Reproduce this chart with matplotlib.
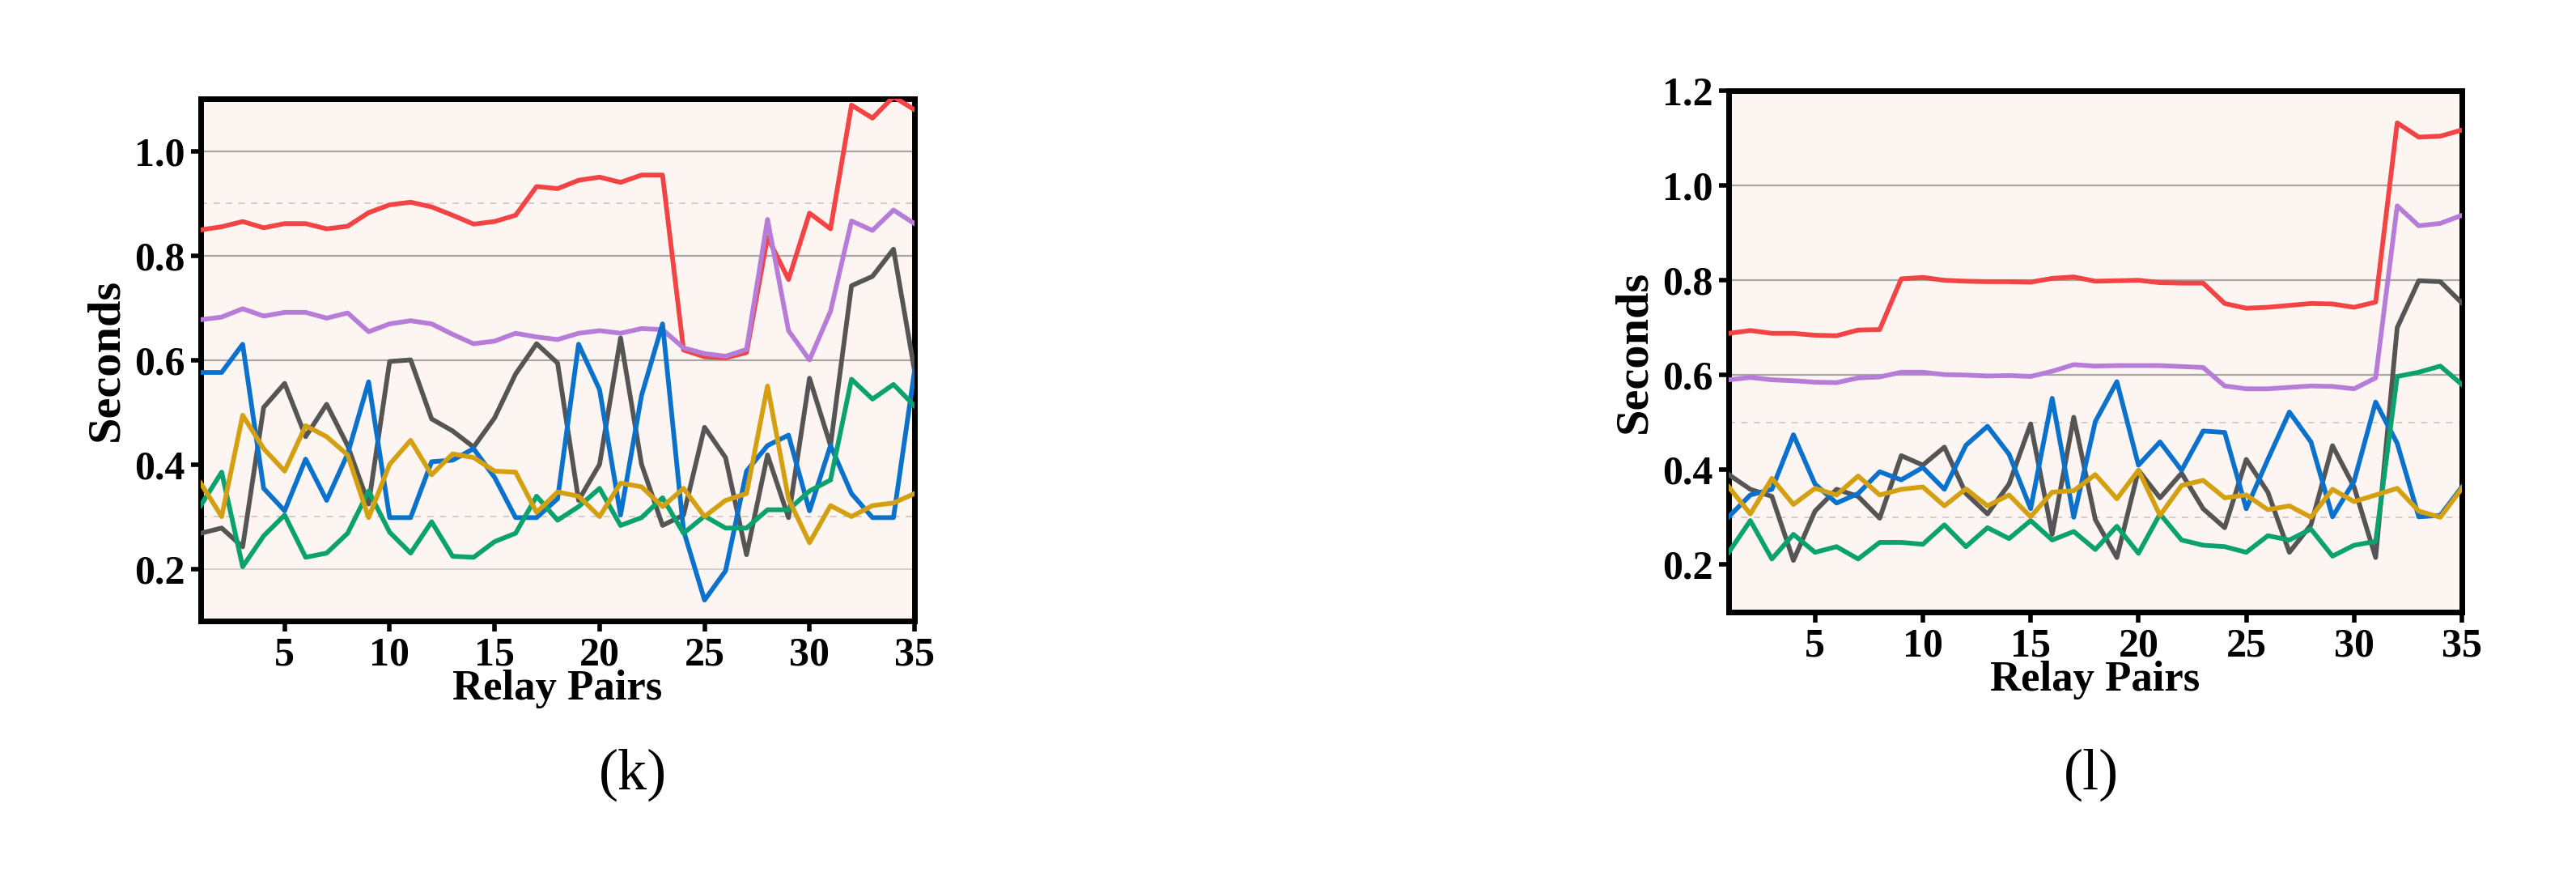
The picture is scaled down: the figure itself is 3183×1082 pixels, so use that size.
import numpy as np
import matplotlib
matplotlib.use('Agg')
import matplotlib.pyplot as plt

plt.rcParams['font.family'] = ['Liberation Serif', 'DejaVu Serif']

relay = np.arange(1, 36)

# ---------------------------------------------------------------------------
# Panel (k)
# ---------------------------------------------------------------------------
k_red = [0.849, 0.855, 0.865, 0.853, 0.861, 0.861, 0.851, 0.856, 0.882, 0.897,
         0.902, 0.893, 0.877, 0.860, 0.865, 0.877, 0.932, 0.928, 0.944, 0.950,
         0.940, 0.954, 0.954, 0.619, 0.606, 0.604, 0.614, 0.835, 0.754, 0.881,
         0.851, 1.088, 1.063, 1.104, 1.079]
k_purple = [0.677, 0.682, 0.698, 0.684, 0.691, 0.691, 0.680, 0.690, 0.654, 0.669,
            0.675, 0.669, 0.649, 0.631, 0.636, 0.651, 0.644, 0.639, 0.651, 0.656,
            0.651, 0.660, 0.658, 0.623, 0.612, 0.607, 0.620, 0.869, 0.656, 0.600,
            0.693, 0.866, 0.848, 0.887, 0.861]
k_gray = [0.268, 0.278, 0.242, 0.509, 0.555, 0.453, 0.515, 0.436, 0.324, 0.597,
          0.600, 0.487, 0.464, 0.433, 0.489, 0.573, 0.631, 0.594, 0.331, 0.400,
          0.642, 0.400, 0.283, 0.303, 0.471, 0.413, 0.227, 0.418, 0.298, 0.565,
          0.436, 0.742, 0.760, 0.812, 0.580]
k_blue = [0.576, 0.576, 0.630, 0.354, 0.311, 0.410, 0.331, 0.420, 0.558, 0.298,
          0.298, 0.405, 0.408, 0.430, 0.375, 0.298, 0.298, 0.334, 0.630, 0.543,
          0.303, 0.532, 0.669, 0.273, 0.140, 0.196, 0.387, 0.436, 0.456, 0.311,
          0.436, 0.344, 0.298, 0.298, 0.578]
k_green = [0.321, 0.385, 0.204, 0.263, 0.303, 0.222, 0.230, 0.268, 0.349, 0.270,
           0.230, 0.290, 0.224, 0.222, 0.252, 0.268, 0.339, 0.293, 0.319, 0.354,
           0.283, 0.298, 0.336, 0.268, 0.301, 0.278, 0.278, 0.313, 0.313, 0.349,
           0.370, 0.563, 0.525, 0.553, 0.512]
k_gold = [0.364, 0.300, 0.494, 0.430, 0.387, 0.474, 0.453, 0.418, 0.298, 0.400,
          0.446, 0.380, 0.420, 0.413, 0.387, 0.385, 0.308, 0.347, 0.339, 0.300,
          0.364, 0.357, 0.319, 0.354, 0.300, 0.331, 0.344, 0.550, 0.334, 0.250,
          0.321, 0.300, 0.321, 0.326, 0.344]

# ---------------------------------------------------------------------------
# Panel (l)
# ---------------------------------------------------------------------------
l_red = [0.688, 0.694, 0.688, 0.688, 0.684, 0.683, 0.695, 0.696, 0.803, 0.806,
         0.800, 0.798, 0.797, 0.797, 0.796, 0.804, 0.807, 0.798, 0.799, 0.800,
         0.795, 0.794, 0.794, 0.751, 0.741, 0.743, 0.747, 0.751, 0.750, 0.743,
         0.754, 1.132, 1.102, 1.104, 1.117]
l_purple = [0.590, 0.595, 0.590, 0.588, 0.585, 0.584, 0.594, 0.596, 0.606, 0.606,
            0.601, 0.600, 0.598, 0.599, 0.597, 0.608, 0.622, 0.619, 0.620, 0.620,
            0.620, 0.618, 0.616, 0.577, 0.571, 0.571, 0.574, 0.577, 0.576, 0.571,
            0.594, 0.957, 0.915, 0.920, 0.937]
l_gray = [0.390, 0.359, 0.344, 0.209, 0.313, 0.359, 0.344, 0.298, 0.430, 0.410,
          0.448, 0.350, 0.307, 0.370, 0.497, 0.264, 0.511, 0.295, 0.215, 0.399,
          0.341, 0.393, 0.318, 0.278, 0.422, 0.353, 0.226, 0.284, 0.451, 0.364,
          0.215, 0.700, 0.799, 0.797, 0.752]
l_blue = [0.301, 0.347, 0.359, 0.474, 0.370, 0.330, 0.350, 0.396, 0.379, 0.405,
          0.359, 0.452, 0.492, 0.433, 0.318, 0.551, 0.300, 0.502, 0.586, 0.410,
          0.459, 0.399, 0.482, 0.479, 0.318, 0.422, 0.522, 0.459, 0.301, 0.376,
          0.543, 0.456, 0.301, 0.304, 0.364]
l_green = [0.226, 0.293, 0.212, 0.264, 0.226, 0.238, 0.212, 0.247, 0.247, 0.243,
           0.284, 0.238, 0.278, 0.255, 0.293, 0.252, 0.270, 0.232, 0.281, 0.224,
           0.307, 0.252, 0.241, 0.238, 0.226, 0.261, 0.252, 0.275, 0.218, 0.241,
           0.249, 0.597, 0.606, 0.619, 0.580]
l_gold = [0.364, 0.307, 0.382, 0.327, 0.361, 0.347, 0.387, 0.347, 0.359, 0.364,
          0.324, 0.360, 0.324, 0.347, 0.301, 0.353, 0.356, 0.390, 0.339, 0.399,
          0.304, 0.367, 0.378, 0.341, 0.347, 0.316, 0.324, 0.300, 0.359, 0.333,
          0.347, 0.361, 0.313, 0.300, 0.361]

x_ticks = [5, 10, 15, 20, 25, 30, 35]
k_yticks = [0.2, 0.4, 0.6, 0.8, 1.0]
l_yticks = [0.2, 0.4, 0.6, 0.8, 1.0, 1.2]

COLORS = ['#f24444', '#b77bd8', '#555555', '#0a72cc', '#0aa26e', '#d4a011']
BG = '#fdf5f2'


def draw_panel(ax, series, ylim, yticks, solid, faint, dashed, tag, tag_x):
    ax.set_facecolor(BG)
    for y in solid:
        ax.axhline(y, color='#a9a5a3', lw=1.6, zorder=1)
    for y in faint:
        ax.axhline(y, color='#d6d0cd', lw=1.4, zorder=1)
    for y in dashed:
        ax.axhline(y, color='#d2cbc8', lw=1.4, ls=(0, (4, 4)), zorder=1)

    for vals, c in zip(series, COLORS):
        ax.plot(relay, vals, color=c, lw=4.2, zorder=3)

    ax.set_xlim(1, 35)
    ax.set_ylim(*ylim)
    ax.set_xticks(x_ticks)
    ax.set_yticks(yticks)
    ax.set_yticklabels([f'{v:.1f}' for v in yticks])
    ax.tick_params(axis='both', direction='out', length=9, width=4,
                   labelsize=36, pad=5)
    for lab in ax.get_xticklabels() + ax.get_yticklabels():
        lab.set_fontweight('bold')
    for sp in ax.spines.values():
        sp.set_linewidth(5)
        sp.set_color('black')

    ax.set_xlabel('Relay Pairs', fontsize=38, fontweight='bold', labelpad=-4)
    ax.set_ylabel('Seconds', fontsize=42, fontweight='bold', labelpad=6)
    ax.figure.text(tag_x, 0.115, tag, fontsize=52, ha='center', va='center')


fig = plt.figure(figsize=(31.83, 10.82), dpi=100)
ax_k = fig.add_axes([0.0779, 0.2911, 0.2771, 0.5961])
ax_l = fig.add_axes([0.6711, 0.3013, 0.2846, 0.5952])

draw_panel(ax_k, [k_red, k_purple, k_gray, k_blue, k_green, k_gold],
           (0.1, 1.1), k_yticks, solid=[0.6, 0.8, 1.0], faint=[0.2],
           dashed=[0.3, 0.9], tag='(k)', tag_x=782 / 3183)
draw_panel(ax_l, [l_red, l_purple, l_gray, l_blue, l_green, l_gold],
           (0.1, 1.2), l_yticks, solid=[0.6, 0.8, 1.0], faint=[],
           dashed=[0.3, 0.5], tag='(l)', tag_x=2584 / 3183)

fig.savefig('out.png', dpi=100, facecolor='white')
